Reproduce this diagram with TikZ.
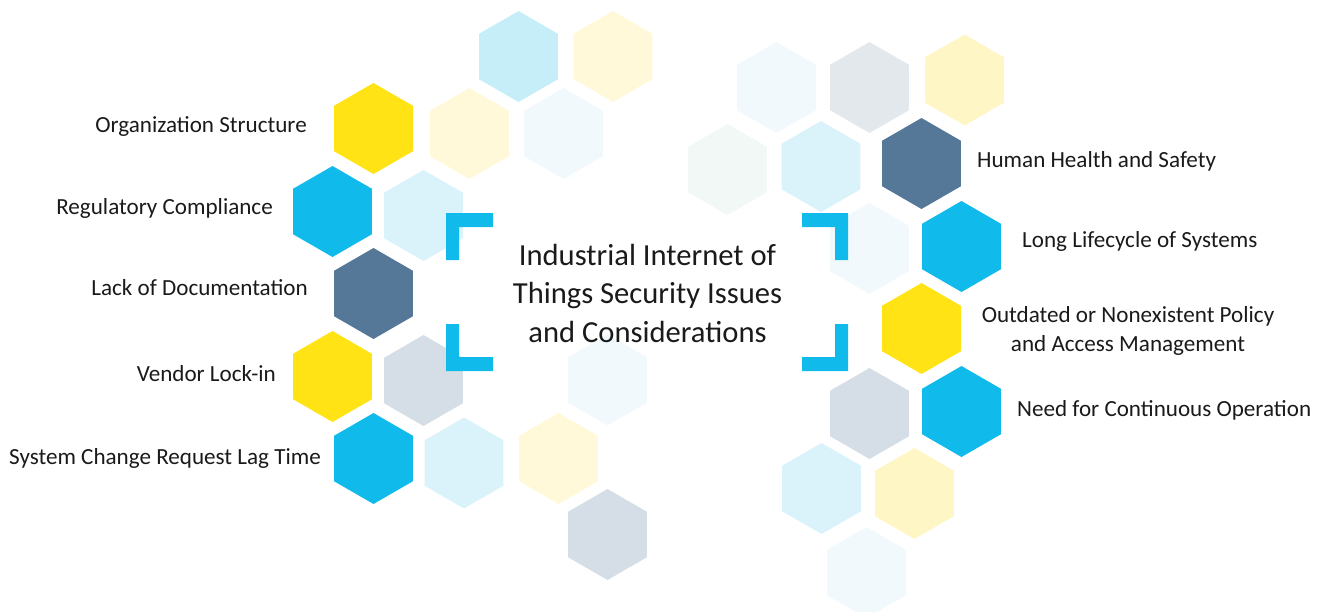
\documentclass[tikz,border=0pt]{standalone}
\usepackage{fontspec}
\setmainfont{Carlito}
\usetikzlibrary{shapes.geometric}
\definecolor{yel}{HTML}{FFE314}
\definecolor{blu}{HTML}{10BBEC}
\definecolor{stl}{HTML}{557798}
\definecolor{gry}{HTML}{D5DEE6}
\definecolor{lgry}{HTML}{E3E8EC}
\definecolor{lblu}{HTML}{DAF2FA}
\definecolor{lblub}{HTML}{C6EEF9}
\definecolor{pyel}{HTML}{FFF9DA}
\definecolor{pyelb}{HTML}{FFF6C6}
\definecolor{vpblu}{HTML}{F2F9FD}
\definecolor{pgrn}{HTML}{F2F8F5}
\definecolor{txt}{HTML}{1A1A1A}
\begin{document}
\begin{tikzpicture}[x=1pt,y=-1pt,
  hex/.style={regular polygon, regular polygon sides=6, shape border rotate=30,
    minimum size=91pt, inner sep=0pt, draw=none, fill=#1},
  lab/.style={font=\fontsize{23.1}{29}\selectfont, text=txt, inner sep=0pt},
  ttl/.style={font=\fontsize{30.6}{38.5}\selectfont, text=txt, inner sep=0pt, align=center},
  brk/.style={fill=blu, draw=none}]
\useasboundingbox (0,0) rectangle (1320,611);
% left cluster
\node[hex=lblub] (h1) at (518.5,56.5) {};
\node[hex=pyel]  (h2) at (613,56.5) {};
\node[hex=yel]   (h3) at (373.5,128.5) {};
\node[hex=pyel]  (h4) at (469.5,133.5) {};
\node[hex=vpblu] (h5) at (563.5,133.5) {};
\node[hex=blu]   (h6) at (332.5,211.5) {};
\node[hex=lblu]  (h7) at (423.5,215.5) {};
\node[hex=stl]   (h8) at (373.5,293.5) {};
\node[hex=yel]   (h9) at (332.5,376.5) {};
\node[hex=gry]   (h10) at (423.5,380.5) {};
\node[hex=vpblu] (h11) at (607.5,380) {};
\node[hex=blu]   (h12) at (373.5,458.5) {};
\node[hex=lblu]  (h13) at (464,463) {};
\node[hex=pyel]  (h14) at (558.5,458.5) {};
\node[hex=gry]   (h15) at (607.5,534.5) {};
% right cluster
\node[hex=vpblu] (h16) at (776.5,87.5) {};
\node[hex=lgry]  (h17) at (869.5,87.5) {};
\node[hex=pyelb] (h18) at (964.5,80) {};
\node[hex=pgrn]  (h19) at (727.5,169.5) {};
\node[hex=lblu]  (h20) at (821,166.5) {};
\node[hex=stl]   (h21) at (921.5,163.5) {};
\node[hex=vpblu] (h22) at (869.5,248.5) {};
\node[hex=blu]   (h23) at (961.5,246.5) {};
\node[hex=yel]   (h24) at (921.5,328.5) {};
\node[hex=gry]   (h25) at (869.5,413.5) {};
\node[hex=blu]   (h26) at (961.5,411.5) {};
\node[hex=lblu]  (h27) at (821.5,488.5) {};
\node[hex=pyelb] (h28) at (914.5,493.5) {};
\node[hex=vpblu] (h29) at (866.5,572.5) {};
% brackets
\fill[brk] (446,213) -- (493,213) -- (493,227) -- (459,227) -- (459,260) -- (446,260) -- cycle;
\fill[brk] (446,371) -- (493,371) -- (493,357) -- (459,357) -- (459,324) -- (446,324) -- cycle;
\fill[brk] (848,213) -- (802,213) -- (802,227) -- (835,227) -- (835,260) -- (848,260) -- cycle;
\fill[brk] (848,371) -- (802,371) -- (802,357) -- (835,357) -- (835,324) -- (848,324) -- cycle;
% title
\node[ttl] (title) at (647.5,293) {Industrial Internet of\\Things Security Issues\\and Considerations};
% labels left
\node[lab, anchor=base east] (l1) at (307,132) {Organization Structure};
\node[lab, anchor=base east] (l2) at (273,214) {Regulatory Compliance};
\node[lab, anchor=base east] (l3) at (308,295) {Lack of Documentation};
\node[lab, anchor=base east] (l4) at (276,381) {Vendor Lock-in};
\node[lab, anchor=base east] (l5) at (321,464) {System Change Request Lag Time};
% labels right
\node[lab, anchor=base west] (r1) at (977,167) {Human Health and Safety};
\node[lab, anchor=base west] (r2) at (1022,247) {Long Lifecycle of Systems};
\node[lab, align=center] (r3) at (1128,331) {Outdated or Nonexistent Policy\\and Access Management};
\node[lab, anchor=base west] (r4) at (1017,416) {Need for Continuous Operation};
\end{tikzpicture}
\end{document}
